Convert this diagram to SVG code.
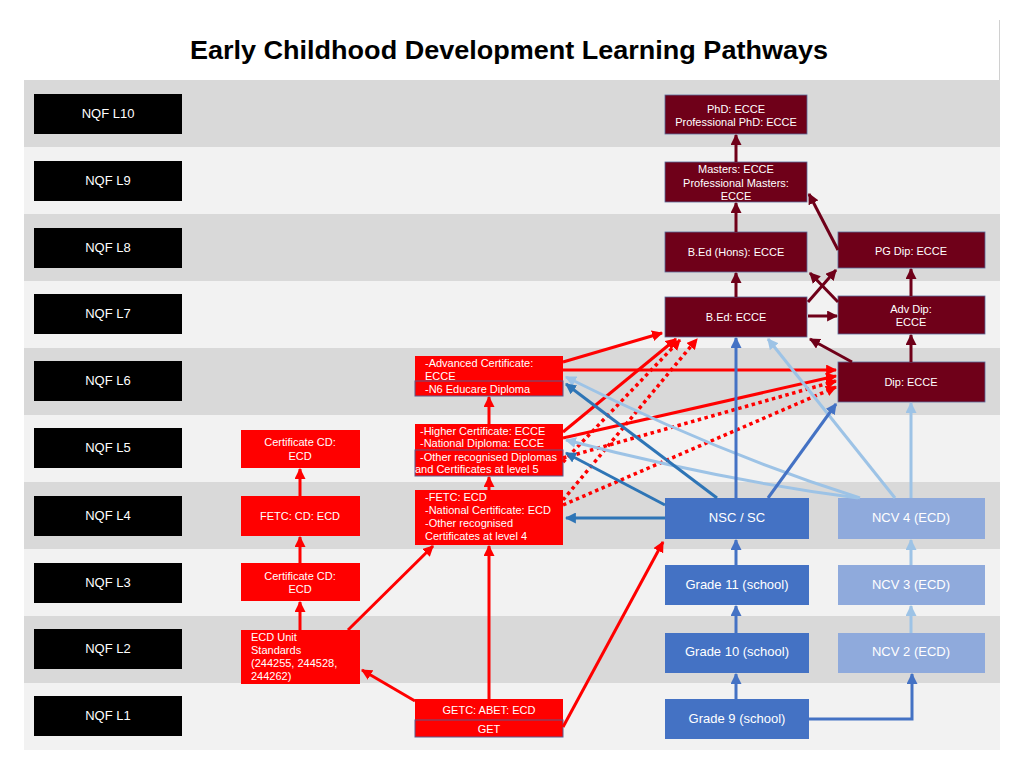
<svg xmlns="http://www.w3.org/2000/svg" width="1024" height="768" viewBox="0 0 1024 768">
<style>
.bandD{fill:#d9d9d9}.bandL{fill:#f2f2f2}
.nqf{fill:#000000}
.nqft{fill:#ffffff;font-family:"Liberation Sans",Arial,sans-serif;font-size:13px;text-anchor:middle}
.red{fill:#ff0000}
.sub{fill:#ff0000;stroke:#5a5a8c;stroke-width:1}
.dred{fill:#6f0019;stroke:#5a6a9a;stroke-width:0.8}
.blue{fill:#4472c4}
.lblue{fill:#8faadc}
.t{fill:#ffffff;font-family:"Liberation Sans",Arial,sans-serif;font-size:11px}
.tc{fill:#ffffff;font-family:"Liberation Sans",Arial,sans-serif;font-size:11px;text-anchor:middle}
.tb{fill:#ffffff;font-family:"Liberation Sans",Arial,sans-serif;font-size:13px;text-anchor:middle}
.cr{stroke:#ff0000;stroke-width:3;fill:none}
.crd{stroke:#ff0000;stroke-width:3.5;fill:none;stroke-dasharray:3.5 3.5}
.cdr{stroke:#6f0019;stroke-width:3;fill:none}
.cb{stroke:#4472c4;stroke-width:3;fill:none}
.cbd{stroke:#2e75b6;stroke-width:3;fill:none}
.clb{stroke:#9dc3e6;stroke-width:3;fill:none}
</style>
<defs>
<marker id="mr" viewBox="0 0 10 10" refX="9" refY="5" markerWidth="11" markerHeight="11" markerUnits="userSpaceOnUse" orient="auto"><path d="M0,0 L10,5 L0,10 z" fill="#ff0000"/></marker>
<marker id="mdr" viewBox="0 0 10 10" refX="9" refY="5" markerWidth="11" markerHeight="11" markerUnits="userSpaceOnUse" orient="auto"><path d="M0,0 L10,5 L0,10 z" fill="#6f0019"/></marker>
<marker id="mb" viewBox="0 0 10 10" refX="9" refY="5" markerWidth="11" markerHeight="11" markerUnits="userSpaceOnUse" orient="auto"><path d="M0,0 L10,5 L0,10 z" fill="#4472c4"/></marker>
<marker id="mbd" viewBox="0 0 10 10" refX="9" refY="5" markerWidth="11" markerHeight="11" markerUnits="userSpaceOnUse" orient="auto"><path d="M0,0 L10,5 L0,10 z" fill="#2e75b6"/></marker>
<marker id="mlb" viewBox="0 0 10 10" refX="9" refY="5" markerWidth="11" markerHeight="11" markerUnits="userSpaceOnUse" orient="auto"><path d="M0,0 L10,5 L0,10 z" fill="#9dc3e6"/></marker>
</defs>
<rect x="0" y="0" width="1024" height="768" fill="#ffffff"/>
<line x1="999.5" y1="20" x2="999.5" y2="750" stroke="#d0d0d0" stroke-width="1"/>
<text x="509" y="59" font-family="Liberation Sans,Arial,sans-serif" font-size="26" font-weight="bold" text-anchor="middle" fill="#000000" textLength="638" lengthAdjust="spacingAndGlyphs">Early Childhood Development Learning Pathways</text>

<g id="bands">
<rect class="bandD" x="24" y="80" width="976" height="67"/>
<rect class="bandL" x="24" y="147" width="976" height="67"/>
<rect class="bandD" x="24" y="214" width="976" height="67"/>
<rect class="bandL" x="24" y="281" width="976" height="67"/>
<rect class="bandD" x="24" y="348" width="976" height="67"/>
<rect class="bandL" x="24" y="415" width="976" height="67"/>
<rect class="bandD" x="24" y="482" width="976" height="67"/>
<rect class="bandL" x="24" y="549" width="976" height="67"/>
<rect class="bandD" x="24" y="616" width="976" height="67"/>
<rect class="bandL" x="24" y="683" width="976" height="67"/>
</g>

<g id="nqf-l10"><rect class="nqf" x="34" y="94" width="148" height="40"/><text class="nqft" x="108" y="118">NQF L10</text></g>
<g id="nqf-l9"><rect class="nqf" x="34" y="161" width="148" height="40"/><text class="nqft" x="108" y="185">NQF L9</text></g>
<g id="nqf-l8"><rect class="nqf" x="34" y="228" width="148" height="40"/><text class="nqft" x="108" y="252">NQF L8</text></g>
<g id="nqf-l7"><rect class="nqf" x="34" y="294" width="148" height="40"/><text class="nqft" x="108" y="318">NQF L7</text></g>
<g id="nqf-l6"><rect class="nqf" x="34" y="361" width="148" height="40"/><text class="nqft" x="108" y="385">NQF L6</text></g>
<g id="nqf-l5"><rect class="nqf" x="34" y="428" width="148" height="40"/><text class="nqft" x="108" y="452">NQF L5</text></g>
<g id="nqf-l4"><rect class="nqf" x="34" y="496" width="148" height="40"/><text class="nqft" x="108" y="520">NQF L4</text></g>
<g id="nqf-l3"><rect class="nqf" x="34" y="563" width="148" height="40"/><text class="nqft" x="108" y="587">NQF L3</text></g>
<g id="nqf-l2"><rect class="nqf" x="34" y="629" width="148" height="40"/><text class="nqft" x="108" y="653">NQF L2</text></g>
<g id="nqf-l1"><rect class="nqf" x="34" y="696" width="148" height="40"/><text class="nqft" x="108" y="720">NQF L1</text></g>

<g id="cert-cd-l5"><rect class="red" x="241" y="430" width="119" height="38"/><text class="tc" x="300" y="446">Certificate CD:</text><text class="tc" x="300" y="460">ECD</text></g>
<g id="fetc-cd"><rect class="red" x="241" y="496" width="119" height="40"/><text class="tc" x="300" y="520">FETC: CD: ECD</text></g>
<g id="cert-cd-l3"><rect class="red" x="241" y="563" width="119" height="38"/><text class="tc" x="300" y="580">Certificate CD:</text><text class="tc" x="300" y="593">ECD</text></g>
<g id="ecd-unit"><rect class="red" x="241" y="630" width="119" height="54"/><text class="t" x="251" y="641">ECD Unit</text><text class="t" x="251" y="654">Standards</text><text class="t" x="251" y="667">(244255, 244528,</text><text class="t" x="251" y="680">244262)</text></g>

<g id="adv-cert"><rect class="red" x="415" y="356" width="148" height="40"/><rect class="sub" x="415" y="381" width="148" height="15"/><text class="t" x="425" y="367">-Advanced Certificate:</text><text class="t" x="425" y="380">ECCE</text><text class="t" x="425" y="393">-N6 Educare Diploma</text></g>
<g id="higher-cert"><rect class="red" x="415" y="424" width="148" height="52"/><rect class="sub" x="415" y="450" width="148" height="26"/><text class="t" x="420" y="435">-Higher Certificate: ECCE</text><text class="t" x="420" y="447">-National Diploma: ECCE</text><text class="t" x="420" y="461">-Other recognised Diplomas</text><text class="t" x="415" y="473">and Certificates at level 5</text></g>
<g id="fetc-ecd"><rect class="red" x="415" y="490" width="148" height="55"/><text class="t" x="425" y="501">-FETC: ECD</text><text class="t" x="425" y="514">-National Certificate: ECD</text><text class="t" x="425" y="527">-Other recognised</text><text class="t" x="425" y="540">Certificates at level 4</text></g>
<g id="getc"><rect class="red" x="415" y="699" width="148" height="21"/><rect class="sub" x="415" y="720" width="148" height="17"/><text class="tc" x="489" y="714">GETC: ABET: ECD</text><text class="tc" x="489" y="733">GET</text></g>

<g id="phd"><rect class="dred" x="665" y="95" width="142" height="39"/><text class="tc" x="736" y="113">PhD: ECCE</text><text class="tc" x="736" y="126">Professional PhD: ECCE</text></g>
<g id="masters"><rect class="dred" x="665" y="162" width="142" height="40"/><text class="tc" x="736" y="173">Masters: ECCE</text><text class="tc" x="736" y="187">Professional Masters:</text><text class="tc" x="736" y="200">ECCE</text></g>
<g id="bed-hons"><rect class="dred" x="665" y="232" width="142" height="40"/><text class="tc" x="736" y="256">B.Ed (Hons): ECCE</text></g>
<g id="bed"><rect class="dred" x="665" y="297" width="142" height="40"/><text class="tc" x="736" y="321">B.Ed: ECCE</text></g>
<g id="pg-dip"><rect class="dred" x="838" y="232" width="147" height="36"/><text class="tc" x="911" y="255">PG Dip: ECCE</text></g>
<g id="adv-dip"><rect class="dred" x="838" y="296" width="147" height="38"/><text class="tc" x="911" y="313">Adv Dip:</text><text class="tc" x="911" y="326">ECCE</text></g>
<g id="dip"><rect class="dred" x="838" y="362" width="147" height="40"/><text class="tc" x="911" y="386">Dip: ECCE</text></g>

<g id="nsc"><rect class="blue" x="665" y="498" width="144" height="41"/><text class="tb" x="737" y="522">NSC / SC</text></g>
<g id="grade11"><rect class="blue" x="665" y="565" width="144" height="40"/><text class="tb" x="737" y="589">Grade 11 (school)</text></g>
<g id="grade10"><rect class="blue" x="665" y="633" width="144" height="40"/><text class="tb" x="737" y="656">Grade 10 (school)</text></g>
<g id="grade9"><rect class="blue" x="665" y="699" width="144" height="40"/><text class="tb" x="737" y="723">Grade 9 (school)</text></g>
<g id="ncv4"><rect class="lblue" x="838" y="498" width="147" height="41"/><text class="tb" x="911" y="522">NCV 4 (ECD)</text></g>
<g id="ncv3"><rect class="lblue" x="838" y="565" width="147" height="40"/><text class="tb" x="911" y="589">NCV 3 (ECD)</text></g>
<g id="ncv2"><rect class="lblue" x="838" y="633" width="147" height="40"/><text class="tb" x="911" y="656">NCV 2 (ECD)</text></g>

<g id="connectors">
<path class="cr" marker-end="url(#mr)" d="M300,496 L300,469"/>
<path class="cr" marker-end="url(#mr)" d="M300,563 L300,537"/>
<path class="cr" marker-end="url(#mr)" d="M300,630 L300,602"/>
<path class="cr" marker-end="url(#mr)" d="M348,630 L433,546"/>
<path class="cr" marker-end="url(#mr)" d="M415,701 L362,670"/>
<path class="cr" marker-end="url(#mr)" d="M489,699 L489,546"/>
<path class="cr" marker-end="url(#mr)" d="M489,490 L489,477"/>
<path class="cr" marker-end="url(#mr)" d="M489,424 L489,397"/>
<path class="cr" marker-end="url(#mr)" d="M563,727 L663,542"/>
<path class="cr" marker-end="url(#mr)" d="M563,362 L662,333"/>
<path class="cr" marker-end="url(#mr)" d="M563,370 L836,370"/>
<path class="cr" marker-end="url(#mr)" d="M563,432 L676,339"/>
<path class="cr" marker-end="url(#mr)" d="M563,438 L836,376"/>
<path class="crd" marker-end="url(#mr)" d="M563,462 L680,340"/>
<path class="crd" marker-end="url(#mr)" d="M563,500 L697,339"/>
<path class="crd" marker-end="url(#mr)" d="M563,458 L836,381"/>
<path class="crd" marker-end="url(#mr)" d="M563,505 L836,387"/>

<path class="cdr" marker-end="url(#mdr)" d="M736,297 L736,273"/>
<path class="cdr" marker-end="url(#mdr)" d="M736,232 L736,203"/>
<path class="cdr" marker-end="url(#mdr)" d="M736,162 L736,135"/>
<path class="cdr" marker-end="url(#mdr)" d="M911,296 L911,269"/>
<path class="cdr" marker-end="url(#mdr)" d="M911,362 L911,335"/>
<path class="cdr" marker-end="url(#mdr)" d="M838,250 L809,194"/>
<path class="cdr" marker-end="url(#mdr)" d="M808,302 L836,270"/>
<path class="cdr" marker-end="url(#mdr)" d="M838,302 L810,273"/>
<path class="cdr" marker-end="url(#mdr)" d="M808,316 L837,316"/>
<path class="cdr" marker-end="url(#mdr)" d="M852,362 L810,339"/>

<path class="clb" marker-end="url(#mlb)" d="M860,498 Q715,452 566,377"/>
<path class="clb" marker-end="url(#mlb)" d="M858,498 Q720,480 566,440"/>
<path class="clb" marker-end="url(#mlb)" d="M895,498 L768,339"/>
<path class="clb" marker-end="url(#mlb)" d="M911,498 L911,403"/>
<path class="clb" marker-end="url(#mlb)" d="M911,565 L911,540"/>
<path class="clb" marker-end="url(#mlb)" d="M911,633 L911,606"/>

<path class="cbd" marker-end="url(#mbd)" d="M717,498 L566,384"/>
<path class="cbd" marker-end="url(#mbd)" d="M665,505 L566,453"/>
<path class="cbd" marker-end="url(#mbd)" d="M665,518 L566,518"/>

<path class="cb" marker-end="url(#mb)" d="M736,498 L736,338"/>
<path class="cb" marker-end="url(#mb)" d="M768,498 L836,404"/>
<path class="cb" marker-end="url(#mb)" d="M736,565 L736,540"/>
<path class="cb" marker-end="url(#mb)" d="M736,633 L736,606"/>
<path class="cb" marker-end="url(#mb)" d="M736,699 L736,674"/>
<path class="cb" marker-end="url(#mb)" d="M809,719 L912,719 L912,674"/>
</g>
</svg>
